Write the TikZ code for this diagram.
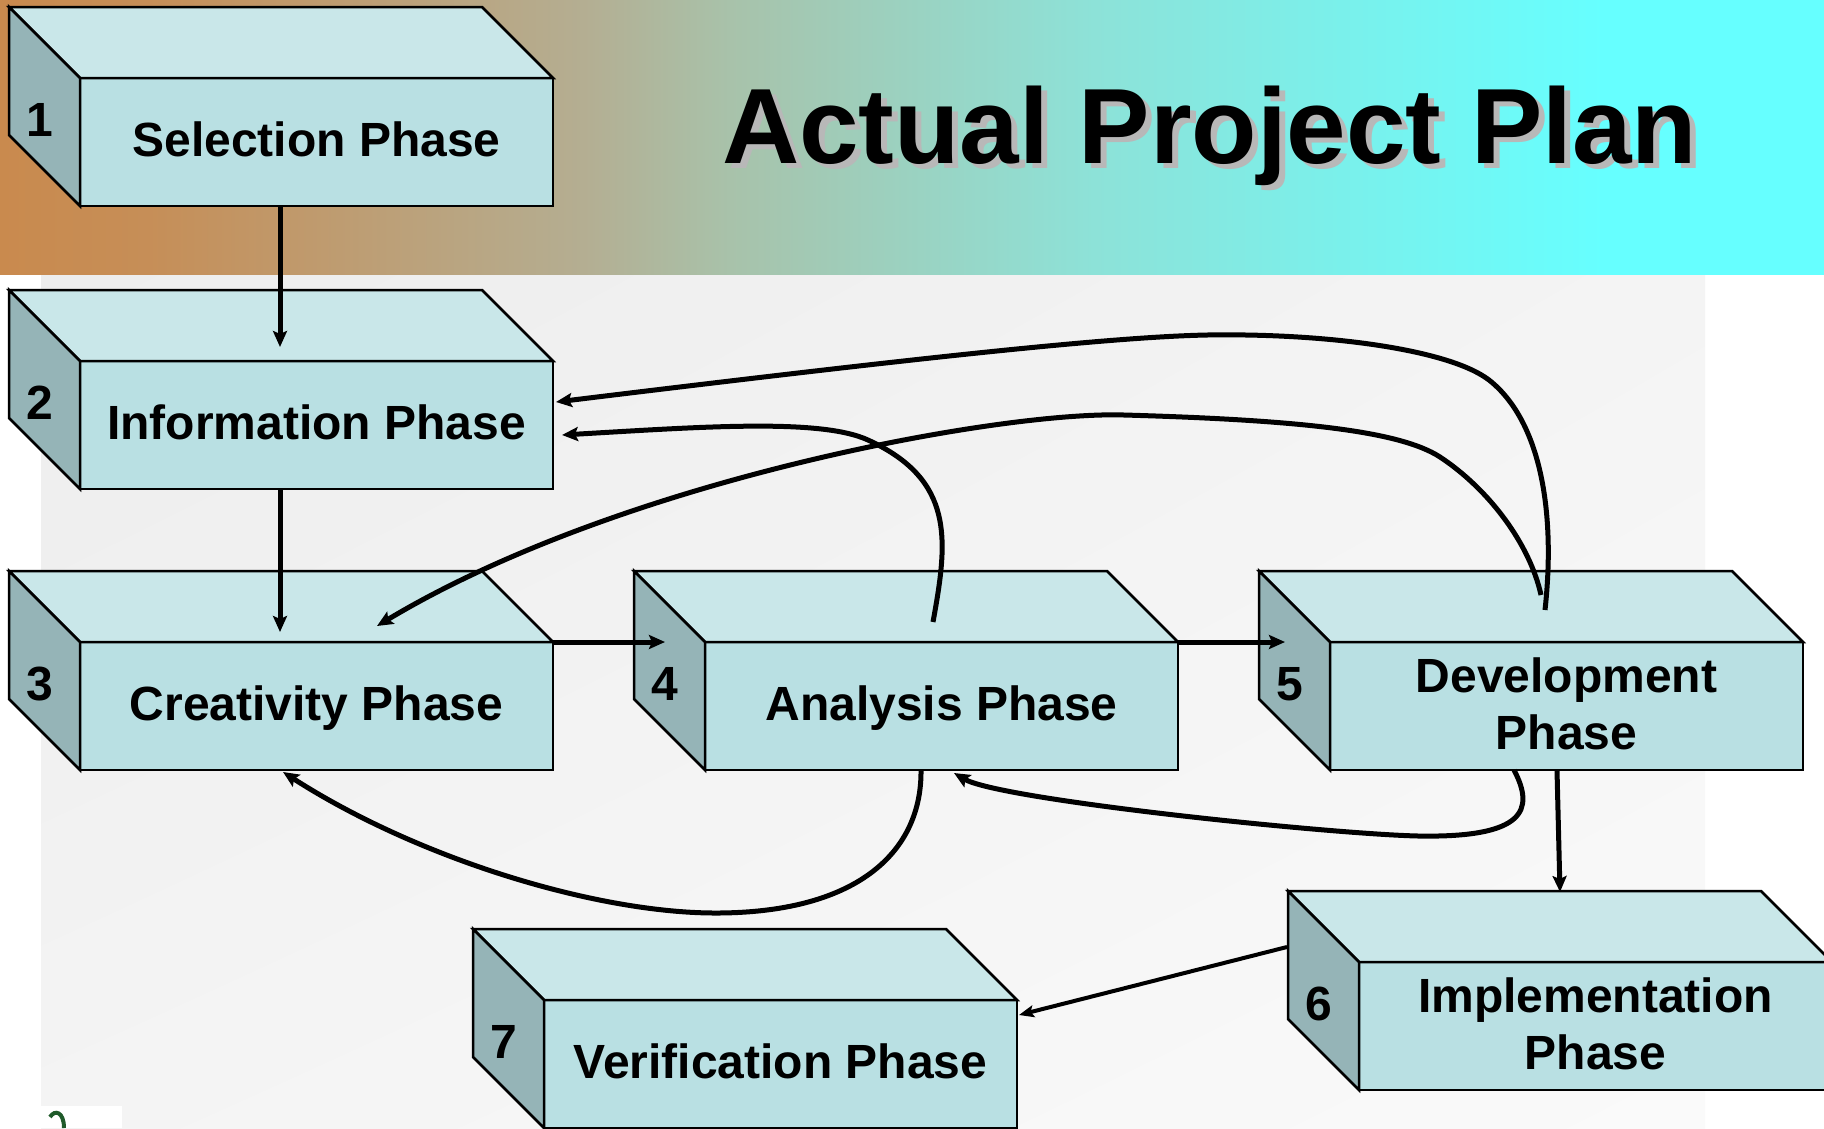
\documentclass[tikz,border=0pt]{standalone}
\usepackage{fontspec}
\setmainfont{Liberation Sans}
\usetikzlibrary{arrows.meta,calc,shadings}
\definecolor{frontc}{HTML}{B9E0E3}
\definecolor{topc}{HTML}{C9E7E9}
\definecolor{sidec}{HTML}{95B4B7}
\definecolor{hdrA}{HTML}{C98A4E}
\definecolor{hdrB}{HTML}{C68E57}
\definecolor{hdrM}{HTML}{B4AE92}
\definecolor{hdrG}{HTML}{A8C2AA}
\definecolor{hdrT}{HTML}{8DE2D8}
\definecolor{hdrC}{HTML}{66FFFF}
\definecolor{bgA}{HTML}{EDEDED}
\definecolor{bgB}{HTML}{F4F4F4}
\definecolor{bgC}{HTML}{FAFAFA}
\definecolor{ttlshadow}{HTML}{B8B8B8}
\definecolor{logogreen}{HTML}{1F5A2A}
\pgfdeclarehorizontalshading{hdrshade}{100bp}{color(0bp)=(hdrA); color(25bp)=(hdrA); color(29bp)=(hdrB); color(41bp)=(hdrM); color(45bp)=(hdrG); color(55bp)=(hdrT); color(69bp)=(hdrC); color(100bp)=(hdrC)}
\newcommand\phbox[6]{%
  \node[frontface,#6] (#1) at (#2,#3) {#5};
  \filldraw[topface] (#1.north west) -- ++(-71,-71) -- ++(473,0) -- (#1.north east) -- cycle;
  \filldraw[sideface] (#1.north west) -- ++(-71,-71) -- ++(0,128) -- (#1.south west) -- cycle;
  \node[numlabel] (#1n) at ($(#1.north west)+(-40,42)$) {#4};
}
\begin{document}
\begin{tikzpicture}[x=1pt,y=-1pt,
  frontface/.style={rectangle, draw=black, line width=2.5pt, fill=frontc,
    minimum width=473pt, minimum height=128pt, inner sep=0pt, outer sep=0pt,
    anchor=north west, align=center, font=\bfseries\fontsize{48}{57}\selectfont},
  oneline/.style={text height=35pt, text depth=7pt},
  twoline/.style={text depth=5pt},
  topface/.style={draw=black, line width=2.5pt, fill=topc, line join=miter},
  sideface/.style={draw=black, line width=2.5pt, fill=sidec, line join=miter},
  numlabel/.style={inner sep=0pt, font=\bfseries\fontsize{48}{48}\selectfont},
  flowarrow/.style={line width=5pt, -{Stealth[length=16pt,width=14pt,inset=3pt]}},
  thinarrow/.style={line width=4pt, -{Stealth[length=15pt,width=12pt,inset=3pt]}},
  titlefont/.style={anchor=base west, inner sep=0pt, font=\bfseries\fontsize{107}{120}\selectfont}
]
\useasboundingbox (0,0) rectangle (1824,1128);
\clip (0,0) rectangle (1824,1128);
\fill[white] (0,0) rectangle (1824,1128);
\shade[upper left=bgA, upper right=bgB, lower left=bgB, lower right=bgC] (41,274) rectangle (1705,1128);
\shade[shading=hdrshade] (0,0) rectangle (1824,274);
\fill[white] (0,1106) rectangle (122,1128);
\draw[logogreen, line width=4pt] (50,1117) .. controls (55,1109) and (64,1112) .. (64,1128);

% title
\node[titlefont, text=ttlshadow] (titleshadow) at (728,168) {Actual Project Plan};
\node[titlefont] (title) at (722,163) {Actual Project Plan};

% boxes
\phbox{f1}{80}{78}{1}{Selection Phase}{oneline}
\phbox{f2}{80}{361}{2}{Information Phase}{oneline}
\phbox{f3}{80}{642}{3}{Creativity Phase}{oneline}
\phbox{f4}{705}{642}{4}{Analysis Phase}{oneline}
\phbox{f5}{1330}{642}{5}{Development\\Phase}{twoline}
\phbox{f6}{1359}{962}{6}{Implementation\\Phase}{twoline}
\phbox{f7}{544}{1000}{7}{Verification Phase}{oneline}

% straight connectors
\draw[flowarrow] ($(f1.south west)+(200,0)$) -- ($(f2.north west)+(200,-14)$);
\draw[flowarrow] ($(f2.south west)+(200,0)$) -- ($(f3.north west)+(200,-10)$);
\draw[flowarrow] (f3.north east) -- ($(f4.north west)+(-40,0)$);
\draw[flowarrow] (f4.north east) -- ($(f5.north west)+(-45,0)$);
\draw[flowarrow] ($(f5.south west)+(227,0)$) -- ($(f6.north west)+(201,-70)$);
\draw[thinarrow] ($(f6.north west)+(-72,-15)$) -- ($(f7.north east)+(2,15)$);

% curved connectors
\draw[flowarrow] ($(f5.north west)+(215,-32)$) .. controls (1556,510) and (1540,420) .. (1489,380)
  .. controls (1450,350) and (1330,333) .. (1207,335)
  .. controls (1107,337) and (900,360) .. ($(f2.north east)+(3,41)$);
\draw[flowarrow] ($(f5.north west)+(211,-47)$) .. controls (1530,545) and (1490,490) .. (1440,457)
  .. controls (1400,431) and (1300,420) .. (1124,415)
  .. controls (1000,411) and (620,480) .. ($(f3.north west)+(297,-16)$);
\draw[flowarrow] ($(f4.north west)+(228,-20)$) .. controls (948,540) and (955,480) .. (868,440)
  .. controls (820,418) and (700,427) .. ($(f2.north east)+(9,74)$);
\draw[flowarrow] ($(f4.south west)+(216,0)$) .. controls (922,850) and (860,912) .. (719,913)
  .. controls (600,914) and (420,860) .. ($(f3.south west)+(203,2)$);
\draw[flowarrow] ($(f5.south west)+(184,0)$) .. controls (1535,810) and (1525,838) .. (1418,836)
  .. controls (1330,834) and (1000,800) .. ($(f4.south west)+(249,3)$);
\end{tikzpicture}
\end{document}
